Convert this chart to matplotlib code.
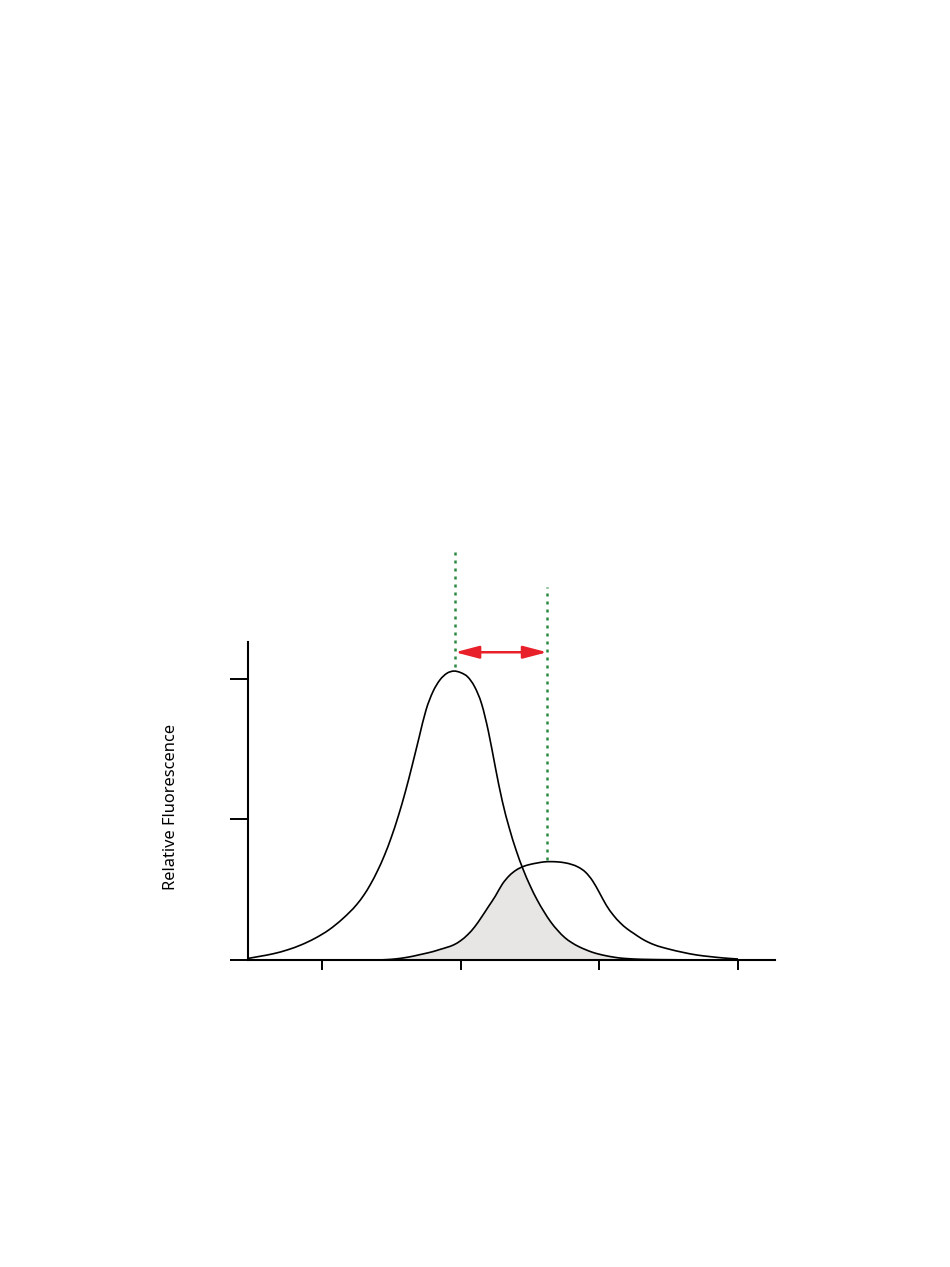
import numpy as np
import matplotlib
matplotlib.use('Agg')
import matplotlib.pyplot as plt
from matplotlib.path import Path
from matplotlib.patches import PathPatch

# wavelength grid (nm) shared by both spectra
wavelength = [347, 355, 365, 375, 385, 395, 405, 415, 425, 430, 435,
              440, 445, 450, 455, 460, 465, 470, 475, 480, 485,
              490, 495, 500, 505, 510, 515, 520, 525, 530, 535,
              540, 545, 550, 555, 560, 565, 570, 575, 580, 585,
              590, 595, 600, 605, 610, 615, 620, 625, 630, 635, 640,
              650, 660, 670, 680, 690, 700]

# donor emission (tall peak)
donor = [0.012, 0.026, 0.045, 0.072, 0.108, 0.155, 0.215, 0.295, 0.395, 0.46, 0.54,
         0.635, 0.745, 0.875, 1.025, 1.195, 1.385, 1.585, 1.78, 1.91, 1.993,
         2.04, 2.056, 2.045, 2.015, 1.945, 1.825, 1.625, 1.37, 1.13, 0.94,
         0.78, 0.645, 0.53, 0.43, 0.345, 0.27, 0.21, 0.16, 0.124, 0.096,
         0.074, 0.055, 0.041, 0.03, 0.021, 0.014, 0.01, 0.007, 0.005, 0.004, 0.003,
         0.002, 0.001, 0.0, 0.0, 0.0, 0.0]

# acceptor emission (flat-topped band)
acceptor = [0.0, 0.0, 0.0, 0.0, 0.0, 0.0, 0.0, 0.0, 0.0, 0.0, 0.0,
            0.0, 0.002, 0.005, 0.01, 0.017, 0.026, 0.037, 0.048, 0.06, 0.075,
            0.09, 0.108, 0.138, 0.18, 0.235, 0.305, 0.38, 0.455, 0.54, 0.60,
            0.64, 0.665, 0.68, 0.69, 0.698, 0.70, 0.698, 0.692, 0.68, 0.66,
            0.625, 0.565, 0.48, 0.39, 0.32, 0.265, 0.222, 0.188, 0.155, 0.128, 0.107,
            0.078, 0.055, 0.036, 0.024, 0.014, 0.007]

donor_peak = 495.9
acceptor_peak = 562.3
xticks = [400, 500, 600, 700]
yticks = [0, 1, 2]


def smooth_path(x, y, close=False):
    # cubic hermite through the points (slopes from neighbours), as bezier segments
    x = np.asarray(x, float)
    y = np.asarray(y, float)
    n = len(x)
    h = np.diff(x)
    s = np.diff(y) / h
    m = np.empty(n)
    m[0] = s[0]
    m[-1] = s[-1]
    m[1:-1] = (s[:-1] * h[1:] + s[1:] * h[:-1]) / (h[:-1] + h[1:])
    verts = [(x[0], y[0])]
    codes = [Path.MOVETO]
    for i in range(n - 1):
        c1 = (x[i] + h[i] / 3, max(y[i] + m[i] * h[i] / 3, 0))
        c2 = (x[i + 1] - h[i] / 3, max(y[i + 1] - m[i + 1] * h[i] / 3, 0))
        verts += [c1, c2, (x[i + 1], y[i + 1])]
        codes += [Path.CURVE4] * 3
    if close:
        verts += [(x[-1], 0), (x[0], 0), (x[0], y[0])]
        codes += [Path.LINETO, Path.LINETO, Path.CLOSEPOLY]
    return Path(verts, codes)


wl = np.array(wavelength)
d = np.array(donor)
a = np.array(acceptor)

fig = plt.figure(figsize=(9.5, 12.67), dpi=100)
ax = fig.add_axes([0.2611, 0.2423, 0.5547, 0.2510])

# overlap region
ax.add_patch(PathPatch(smooth_path(wl, np.minimum(d, a), close=True),
                       facecolor='#e7e6e4', edgecolor='none', lw=0))
ax.add_patch(PathPatch(smooth_path(wl, d), fill=False, edgecolor='black', lw=1.2))
ax.add_patch(PathPatch(smooth_path(wl, a), fill=False, edgecolor='black', lw=1.2))

green = '#2a8a40'
ax.plot([donor_peak, donor_peak], [2.086, 2.911], color=green, lw=1.8,
        dashes=(1.2, 2.0), clip_on=False)
ax.plot([acceptor_peak, acceptor_peak], [0.71, 2.655], color=green, lw=1.8,
        dashes=(1.2, 2.0), clip_on=False)

ax.annotate('', xy=(acceptor_peak, 2.19), xytext=(donor_peak, 2.19),
            arrowprops=dict(arrowstyle='<|-|>,head_length=14.5,head_width=3.8',
                            mutation_scale=1, color='#e8202a', lw=1.8,
                            shrinkA=0, shrinkB=0),
            annotation_clip=False)

ax.set_xlim(346.6, 726.7)
ax.set_ylim(0, 2.263)
ax.set_xticks(xticks)
ax.set_yticks(yticks)
ax.set_xticklabels([])
ax.set_yticklabels([])
ax.tick_params(axis='x', direction='out', length=7, width=1.4)
ax.tick_params(axis='y', direction='out', length=13, width=1.4)
for s in ['top', 'right']:
    ax.spines[s].set_visible(False)
for s in ['left', 'bottom']:
    ax.spines[s].set_linewidth(1.5)

fig.text(171 / 950, 1 - 807 / 1267, 'Relative Fluorescence', rotation=90,
         ha='center', va='center', fontsize=11.8, family='Noto Sans')

fig.savefig('out.png', dpi=100)
plt.close(fig)
